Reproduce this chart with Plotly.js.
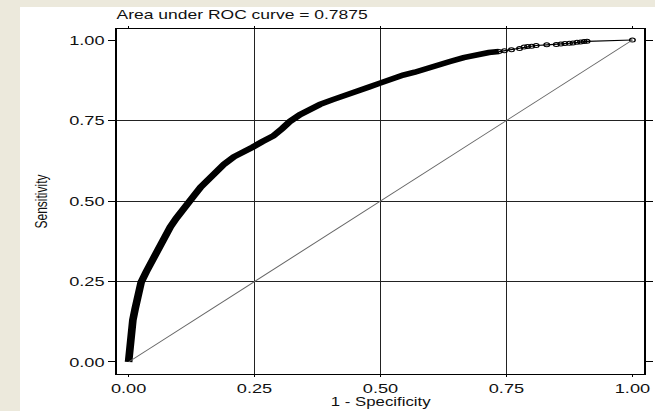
<!DOCTYPE html>
<html>
<head>
<meta charset="utf-8">
<script src="https://cdn.plot.ly/plotly-3.0.1.min.js"></script>
<style>
  html, body { margin: 0; padding: 0; background: #ECE9DC; width: 655px; height: 411px; overflow: hidden; }
  #paper { position: absolute; left: 20px; top: 7px; width: 635px; height: 404px; background: #fff; }
  #chart { position: absolute; left: 20px; top: 0px; width: 454px; height: 411px;
           transform: scaleX(1.4); transform-origin: 0 0; }
</style>
</head>
<body>
<div id="paper"></div>
<div id="chart"></div>
<script>
// ROC curve, dense part (1 - specificity, sensitivity)
const fpr = [0, 0.002, 0.004, 0.0085, 0.013, 0.017, 0.025, 0.035, 0.044, 0.052, 0.060, 0.072, 0.083, 0.095,
  0.106, 0.116, 0.130, 0.143, 0.156, 0.170, 0.190, 0.209, 0.228, 0.246, 0.265, 0.287, 0.305, 0.321, 0.340,
  0.360, 0.380, 0.404, 0.428, 0.453, 0.476, 0.499, 0.522, 0.545, 0.568, 0.592, 0.615, 0.638, 0.665, 0.691,
  0.715, 0.735];
const tpr = [0, 0.040, 0.079, 0.130, 0.165, 0.193, 0.248, 0.280, 0.307, 0.335, 0.358, 0.392, 0.420, 0.447,
  0.472, 0.490, 0.517, 0.543, 0.565, 0.588, 0.615, 0.637, 0.655, 0.667, 0.684, 0.702, 0.725, 0.748, 0.768,
  0.786, 0.800, 0.814, 0.826, 0.838, 0.853, 0.866, 0.879, 0.891, 0.900, 0.910, 0.922, 0.933, 0.945, 0.954,
  0.961, 0.964];
// ROC curve, sparse tail (individual cut points visible)
const fprTail = [0.735, 0.746, 0.760, 0.776, 0.785, 0.792, 0.800, 0.809, 0.830, 0.849, 0.858, 0.866, 0.875,
  0.882, 0.890, 0.897, 0.904, 0.910, 1.0];
const tprTail = [0.964, 0.967, 0.970, 0.974, 0.978, 0.980, 0.981, 0.983, 0.985, 0.986, 0.988, 0.989, 0.990,
  0.991, 0.993, 0.994, 0.995, 0.996, 1.0];
// reference (chance) line
const diagX = [0, 1];
const diagY = [0, 1];
// ticks
const tickVals = [0, 0.25, 0.5, 0.75, 1];
const tickText = ["0.00", "0.25", "0.50", "0.75", "1.00"];
const gridVals = [0.25, 0.5, 0.75];
const aucText = "Area under ROC curve = 0.7875";
const xTitle = "1 - Specificity";
const yTitle = "Sensitivity";

const FONT = '"Liberation Sans", Arial, Helvetica, sans-serif';
const xRange = [-0.0238, 1.0238];
const yRange = [-0.0373, 1.0342];

const traces = [
  { x: diagX, y: diagY, xaxis: 'x2', yaxis: 'y2', mode: 'lines',
    line: { color: '#666', width: 0.9 }, hoverinfo: 'skip', showlegend: false },
  { x: fpr, y: tpr, mode: 'lines', line: { color: '#000', width: 5.5 }, showlegend: false },
  { x: fprTail, y: tprTail, mode: 'lines+markers', line: { color: '#000', width: 1.2 },
    marker: { symbol: 'circle-open', size: 4, color: '#000', line: { width: 1 } }, showlegend: false }
];

const layout = {
  width: 454, height: 411,
  margin: { l: 69, r: 8, t: 29, b: 37 },
  paper_bgcolor: 'rgba(0,0,0,0)', plot_bgcolor: '#fff',
  font: { family: FONT, color: '#111', size: 13 },
  title: { text: aucText, font: { family: FONT, size: 12.5, color: '#111' },
           xref: 'paper', x: 0, xanchor: 'left', yref: 'paper', y: 1, yanchor: 'bottom', pad: { b: 10 } },
  xaxis: { range: xRange, tickvals: tickVals, ticktext: tickText, showgrid: false, zeroline: false,
           showline: true, linecolor: '#000', linewidth: 1, mirror: 'ticks', ticks: 'outside', ticklen: 2,
           tickcolor: '#000', tickfont: { size: 13 }, fixedrange: true },
  yaxis: { range: yRange, tickvals: tickVals, ticktext: tickText, showgrid: false, zeroline: false,
           showline: true, linecolor: '#000', linewidth: 1, mirror: 'ticks', ticks: 'outside', ticklen: 5,
           tickcolor: '#000', tickfont: { size: 13 }, fixedrange: true,
           title: { text: yTitle, font: { size: 12 }, standoff: 12 } },
  xaxis2: { overlaying: 'x', anchor: 'y2', range: xRange, tickvals: gridVals, showgrid: true,
            gridcolor: '#222', gridwidth: 1, showticklabels: false, ticks: '', zeroline: false,
            showline: false, fixedrange: true },
  yaxis2: { overlaying: 'y', anchor: 'x2', range: yRange, tickvals: gridVals, showgrid: true,
            gridcolor: '#222', gridwidth: 1, showticklabels: false, ticks: '', zeroline: false,
            showline: false, fixedrange: true },
  annotations: [
    { text: xTitle, xref: 'paper', yref: 'paper', x: 0.5, y: 0, xanchor: 'center', yanchor: 'middle',
      yshift: -28, showarrow: false, font: { family: FONT, size: 12, color: '#111' } }
  ]
};

Plotly.newPlot('chart', traces, layout, { staticPlot: true, displayModeBar: false });
</script>
</body>
</html>
